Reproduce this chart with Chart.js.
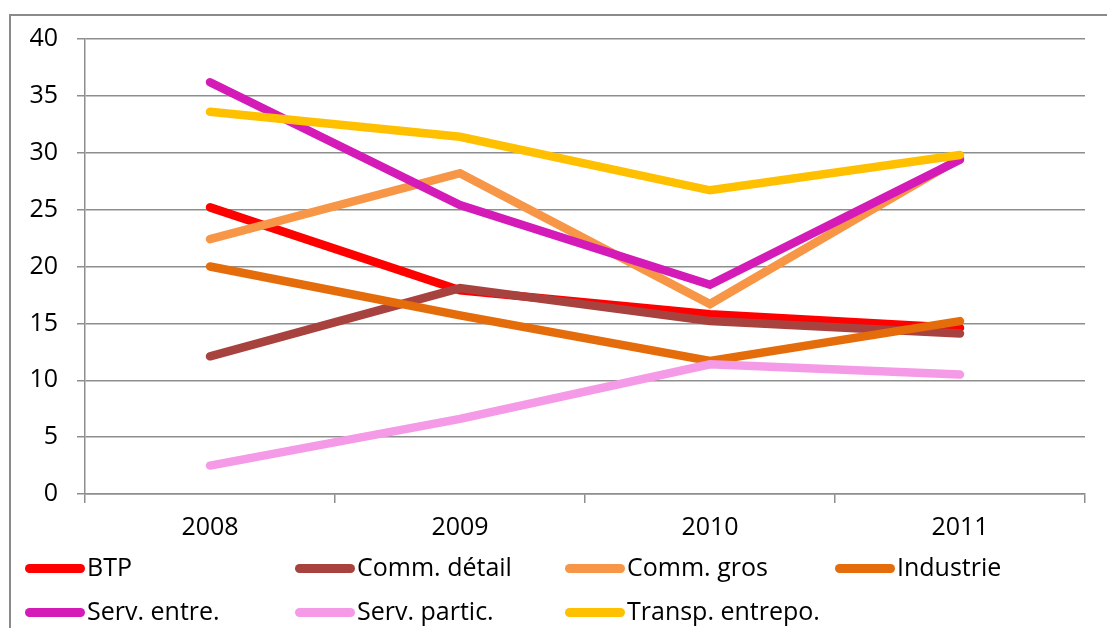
<!DOCTYPE html>
<html>
<head>
<meta charset="utf-8">
<script src="https://cdn.jsdelivr.net/npm/chart.js@4/dist/chart.umd.min.js"></script>
<style>
  html, body { margin: 0; padding: 0; background: #fff; overflow: hidden; }
  #wrap { position: relative; width: 1107px; height: 628px; }
  #frame { position: absolute; left: 9px; top: 14px; width: 1120px; height: 640px; border: 2px solid #8a8a8a; box-sizing: border-box; }
  #chart { position: absolute; left: 0; top: 0; }
  .leg { position: absolute; font-family: "Open Sans", sans-serif; font-size: 25px; color: #000; white-space: nowrap; height: 36px; line-height: 36px; }
  .leg span.sw { display: inline-block; width: 60px; height: 9px; border-radius: 5px; vertical-align: middle; margin-right: 2px; position: relative; top: -1px; }
</style>
</head>
<body>
<div id="wrap">
  <div id="frame"></div>
  <canvas id="chart" width="1107" height="628"></canvas>
  <div id="legend"></div>
</div>
<script>
const years = ['2008', '2009', '2010', '2011'];

// valeurs par secteur
const btp = [25.2, 17.9, 15.8, 14.6];
const commDetail = [12.1, 18.1, 15.2, 14.1];
const commGros = [22.4, 28.2, 16.7, 29.5];
const industrie = [20.0, 15.7, 11.7, 15.2];
const servEntre = [36.2, 25.4, 18.4, 29.4];
const servPartic = [2.5, 6.6, 11.4, 10.5];
const transp = [33.6, 31.4, 26.7, 29.8];

const seriesNames = ['BTP', 'Comm. détail', 'Comm. gros', 'Industrie', 'Serv. entre.', 'Serv. partic.', 'Transp. entrepo.'];
const seriesData = [btp, commDetail, commGros, industrie, servEntre, servPartic, transp];
const seriesColors = ['#ff0000', '#a8423f', '#f79646', '#e46c0a', '#d41bb8', '#f59ae6', '#ffc000'];

const yTicks = [0, 5, 10, 15, 20, 25, 30, 35, 40];

const gridColor = '#8e8e8e';
const font = { family: '"Open Sans", sans-serif', size: 25 };

const datasets = seriesNames.map((name, i) => ({
    label: name,
    data: seriesData[i],
    borderColor: seriesColors[i],
    backgroundColor: seriesColors[i],
    borderWidth: 8.5,
    borderCapStyle: 'round',
    pointRadius: 0,
    tension: 0,
    fill: false,
    order: seriesNames.length - i   // la dernière série passe au-dessus
}));

new Chart(document.getElementById('chart'), {
    type: 'line',
    data: { labels: years, datasets: datasets },
    options: {
        responsive: false,
        animation: false,
        layout: { padding: { top: 39, right: 22, bottom: 84, left: 0 } },
        plugins: { legend: { display: false }, tooltip: { enabled: false } },
        scales: {
            x: {
                offset: true,
                grid: { offset: true, drawOnChartArea: false, drawTicks: true, tickLength: 9, color: gridColor, lineWidth: 1.5 },
                border: { color: gridColor, width: 1.5 },
                ticks: { color: '#000', font: font, padding: 10, maxRotation: 0 },
                afterFit: s => { s.height = 50; }
            },
            y: {
                min: 0,
                max: 40,
                afterBuildTicks: s => { s.ticks = yTicks.map(v => ({ value: v })); },
                grid: { color: gridColor, lineWidth: 1.5, tickLength: 8 },
                border: { color: gridColor, width: 1.5 },
                ticks: { color: '#000', font: font, padding: 19 },
                afterFit: s => { s.width = 85; }
            }
        }
    }
});

// légende sur deux lignes, quatre colonnes
const legend = document.getElementById('legend');
seriesNames.forEach((name, i) => {
    const el = document.createElement('div');
    el.className = 'leg';
    el.style.left = (25 + (i % 4) * 270) + 'px';
    el.style.top = (548 + Math.floor(i / 4) * 44) + 'px';
    el.innerHTML = '<span class="sw" style="background:' + seriesColors[i] + '"></span>' + name;
    legend.appendChild(el);
});
</script>
</body>
</html>
